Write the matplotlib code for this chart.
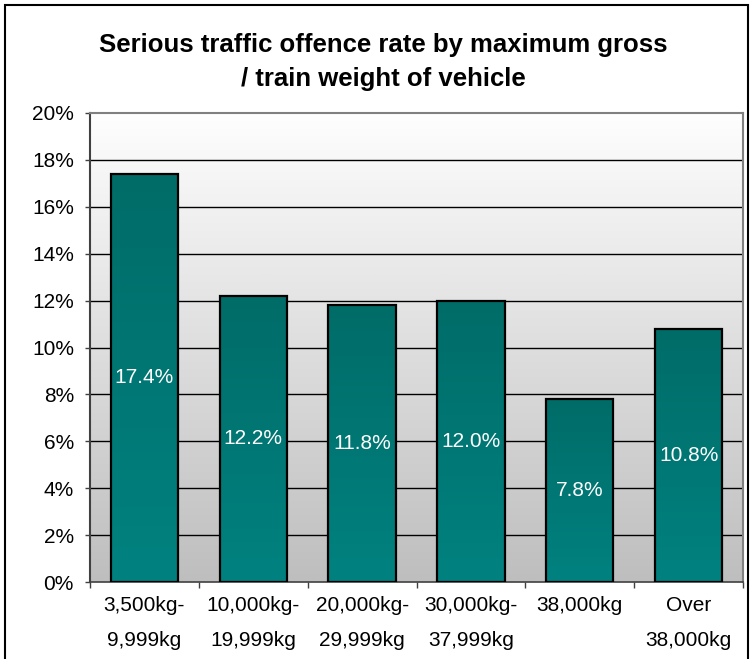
import numpy as np
import matplotlib
matplotlib.use("Agg")
import matplotlib.pyplot as plt
from matplotlib.patches import Rectangle
from matplotlib.ticker import FuncFormatter

categories = [
    "3,500kg-\n9,999kg",
    "10,000kg-\n19,999kg",
    "20,000kg-\n29,999kg",
    "30,000kg-\n37,999kg",
    "38,000kg",
    "Over\n38,000kg",
]
rates = [17.4, 12.2, 11.8, 12.0, 7.8, 10.8]
y_ticks = [0, 2, 4, 6, 8, 10, 12, 14, 16, 18, 20]
title = "Serious traffic offence rate by maximum gross\n/ train weight of vehicle"

plt.rcParams["font.family"] = ["Liberation Sans", "DejaVu Sans"]


def vertical_gradient(ax, extent, top_color, bottom_color, clip=None, zorder=0):
    top = np.array(matplotlib.colors.to_rgb(top_color))
    bottom = np.array(matplotlib.colors.to_rgb(bottom_color))
    t = np.linspace(0, 1, 256)[:, None]
    img = (top * (1 - t) + bottom * t)[:, None, :]
    im = ax.imshow(img, extent=extent, aspect="auto", origin="upper",
                   zorder=zorder, interpolation="bilinear")
    if clip is not None:
        im.set_clip_path(clip)
    return im


fig = plt.figure(figsize=(7.53, 6.59), dpi=100)
ax = fig.add_axes([90 / 753, 77 / 659, 653 / 753, 469 / 659])

x = np.arange(len(categories))
xlim = (-0.5, len(categories) - 0.5)
ylim = (0, 20)

# plot area background: white at top, grey at bottom
vertical_gradient(ax, [xlim[0], xlim[1], ylim[0], ylim[1]], "#fefefe", "#bebebe", zorder=0)

for yv in y_ticks[1:-1]:
    ax.axhline(yv, color="black", lw=1.0, zorder=1)

bars = ax.bar(x, rates, width=0.62, facecolor="none", edgecolor="black",
              linewidth=1.6, zorder=3)
for b, v in zip(bars, rates):
    vertical_gradient(ax, [b.get_x(), b.get_x() + b.get_width(), 0, v],
                      "#006c68", "#008280", clip=b, zorder=2)
    ax.text(b.get_x() + b.get_width() / 2, v / 2, f"{v:.1f}%", color="white",
            ha="center", va="center", fontsize=15, zorder=4)

ax.set_xlim(*xlim)
ax.set_ylim(*ylim)
ax.set_yticks(y_ticks)
ax.yaxis.set_major_formatter(FuncFormatter(lambda v, p: f"{v:.0f}%"))
ax.set_xticks(x)
ax.set_xticklabels(categories, fontsize=15, linespacing=2.05)
ax.set_xticks(np.arange(len(categories) + 1) - 0.5, minor=True)
ax.tick_params(axis="x", which="major", length=0, pad=10)
ax.tick_params(axis="x", which="minor", length=4, width=1, color="#404040")
ax.tick_params(axis="y", length=3.6, width=1, color="#404040", labelsize=15, pad=8)

for side in ["top", "right"]:
    ax.spines[side].set_color("#808080")
    ax.spines[side].set_linewidth(1.5)
ax.spines["left"].set_color("#404040")
ax.spines["left"].set_linewidth(1.5)
ax.spines["bottom"].set_color("#404040")
ax.spines["bottom"].set_linewidth(1.2)

fig.text(383 / 753, 1 - 62 / 659, title, ha="center", va="center",
         fontsize=18.5, fontweight="bold", linespacing=1.5)

# outer chart border
fig.patches.append(Rectangle((5 / 753, -0.02), 743 / 753, 1.0 - 5 / 659 + 0.02,
                             transform=fig.transFigure, fill=False,
                             edgecolor="black", linewidth=1.5))

fig.savefig("out.png", dpi=100)
plt.close(fig)
